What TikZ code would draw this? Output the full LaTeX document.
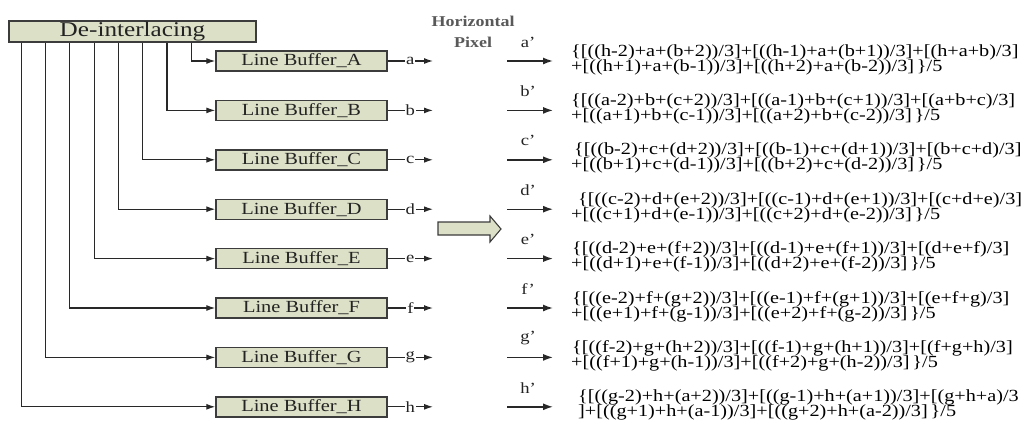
\documentclass[tikz,border=0pt]{standalone}
\usepackage{fontspec}
\setmainfont{Liberation Serif}[FakeStretch=1.2]
\newfontfamily\fmlfont{Liberation Serif}[FakeStretch=1.19]
\usetikzlibrary{arrows.meta}
\definecolor{boxfill}{RGB}{220,224,198}
\definecolor{boxline}{RGB}{60,60,60}
\definecolor{wire}{RGB}{40,40,40}
\definecolor{txt}{RGB}{35,35,35}
\begin{document}
\begin{tikzpicture}[x=1pt,y=-1pt,
  buf/.style={draw=boxline, fill=boxfill, line width=1.4pt, minimum width=171pt, minimum height=20pt, inner sep=0pt, text=txt, font=\fontsize{17}{18}\selectfont},
  deint/.style={draw=boxline, fill=boxfill, line width=1.4pt, minimum width=247pt, minimum height=21pt, inner sep=0pt, text=txt, font=\fontsize{21}{22}\selectfont},
  feed/.style={draw=wire, line width=1.2pt, -{Latex[length=9pt,width=6pt]}},
  outarrow/.style={draw=wire, line width=1.4pt, -{Latex[length=10pt,width=7pt]}},
  lab/.style={font=\fontsize{15.5}{16}\selectfont, fill=white, inner sep=1pt, text=txt},
  plab/.style={font=\fontsize{15.5}{16}\selectfont, inner sep=0pt, text=txt},
  fml/.style={font=\fmlfont\fontsize{17}{18}\selectfont, inner sep=0pt, anchor=base west, text=black},
  hdr/.style={font=\bfseries\fontsize{15}{16}\selectfont, inner sep=0pt, text=black!65},
]
\useasboundingbox (0,0) rectangle (1030,423);

\node[deint] (di) at (132.5,31.5) {De-interlacing};

% line buffers
\foreach \n/\l/\i in {A/a/0,B/b/1,C/c/2,D/d/3,E/e/4,F/f/5,G/g/6,H/h/7}{
  \node[buf] (buf\n) at (301.5,{61+49.4*\i}) {Line Buffer\_\n};
  \coordinate (out\n) at (433,{61+49.4*\i});
  \draw[feed] ([xshift={183-24.3*\i}]di.south west) |- (buf\n.west);
  \draw[feed] (buf\n.east) -- node[lab]{\l} (out\n);
}

\node[hdr] (hz) at (473,21) {Horizontal};
\node[hdr] (px) at (473,42) {Pixel};

% big hollow arrow
\draw[draw=boxline, fill=boxfill, line width=1.1pt]
  (438,222) -- (490,222) -- (490,216) -- (501,229) -- (490,242) -- (490,235) -- (438,235) -- cycle;

% output arrows
\foreach \l/\i in {a/0,b/1,c/2,d/3,e/4,f/5,g/6,h/7}{
  \coordinate (p\l0) at (507,{61+49.4*\i});
  \coordinate (p\l1) at (553,{61+49.4*\i});
  \draw[outarrow] (p\l0) -- (p\l1);
  \node[plab] (pl\l) at (528,{42+49.4*\i}) {\l’};
}

% formulas
\def\yy#1{61+49.4*#1}
\node[fml] (fa1) at (571,{\yy{0}-5}) {\{[((h-2)+a+(b+2))/3]+[((h-1)+a+(b+1))/3]+[(h+a+b)/3]};
\node[fml] (fa2) at (571,{\yy{0}+10}) {+[((h+1)+a+(b-1))/3]+[((h+2)+a+(b-2))/3]\,\}/5};
\node[fml] (fb1) at (571,{\yy{1}-5}) {\{[((a-2)+b+(c+2))/3]+[((a-1)+b+(c+1))/3]+[(a+b+c)/3]};
\node[fml] (fb2) at (571,{\yy{1}+10}) {+[((a+1)+b+(c-1))/3]+[((a+2)+b+(c-2))/3]\,\}/5};
\node[fml] (fc1) at (574,{\yy{2}-5}) {\{[((b-2)+c+(d+2))/3]+[((b-1)+c+(d+1))/3]+[(b+c+d)/3]};
\node[fml] (fc2) at (571,{\yy{2}+10}) {+[((b+1)+c+(d-1))/3]+[((b+2)+c+(d-2))/3]\,\}/5};
\node[fml] (fd1) at (578,{\yy{3}-5}) {\{[((c-2)+d+(e+2))/3]+[((c-1)+d+(e+1))/3]+[(c+d+e)/3]};
\node[fml] (fd2) at (571,{\yy{3}+10}) {+[((c+1)+d+(e-1))/3]+[((c+2)+d+(e-2))/3]\,\}/5};
\node[fml] (fe1) at (572,{\yy{4}-5}) {\{[((d-2)+e+(f+2))/3]+[((d-1)+e+(f+1))/3]+[(d+e+f)/3]};
\node[fml] (fe2) at (571,{\yy{4}+10}) {+[((d+1)+e+(f-1))/3]+[((d+2)+e+(f-2))/3]\,\}/5};
\node[fml] (ff1) at (572,{\yy{5}-5}) {\{[((e-2)+f+(g+2))/3]+[((e-1)+f+(g+1))/3]+[(e+f+g)/3]};
\node[fml] (ff2) at (571,{\yy{5}+10}) {+[((e+1)+f+(g-1))/3]+[((e+2)+f+(g-2))/3]\,\}/5};
\node[fml] (fg1) at (572,{\yy{6}-5}) {\{[((f-2)+g+(h+2))/3]+[((f-1)+g+(h+1))/3]+[(f+g+h)/3]};
\node[fml] (fg2) at (571,{\yy{6}+10}) {+[((f+1)+g+(h-1))/3]+[((f+2)+g+(h-2))/3]\,\}/5};
\node[fml] (fh1) at (578,{\yy{7}-5}) {\{[((g-2)+h+(a+2))/3]+[((g-1)+h+(a+1))/3]+[(g+h+a)/3};
\node[fml] (fh2) at (578,{\yy{7}+10}) {]+[((g+1)+h+(a-1))/3]+[((g+2)+h+(a-2))/3]\,\}/5};
\end{tikzpicture}
\end{document}
